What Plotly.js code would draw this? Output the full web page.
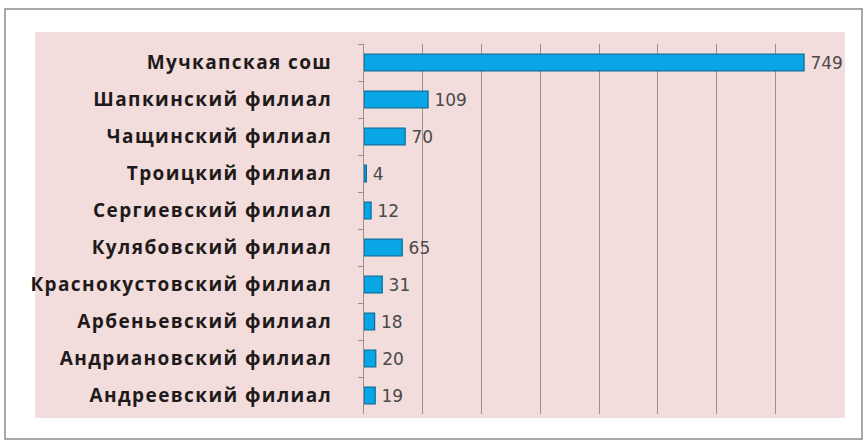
<!DOCTYPE html>
<html>
<head>
<meta charset="utf-8">
<script src="https://cdn.plot.ly/plotly-3.0.1.min.js"></script>
<style>
html,body{margin:0;padding:0;background:#ffffff;}
#chart{width:867px;height:442px;}
#chart .ytick text{letter-spacing:1.4px;}
</style>
</head>
<body>
<div id="chart"></div>
<script>
// Categories, top to bottom as in the reference
const categories = [
  "Мучкапская сош",
  "Шапкинский филиал",
  "Чащинский филиал",
  "Троицкий филиал",
  "Сергиевский филиал",
  "Кулябовский филиал",
  "Краснокустовский филиал",
  "Арбеньевский филиал",
  "Андриановский филиал",
  "Андреевский филиал"
];
const values = [749, 109, 70, 4, 12, 65, 31, 18, 20, 19];
const xTicks = [0, 100, 200, 300, 400, 500, 600, 700, 800];

const W = 867, H = 442;
const L = 364, R = 33, T = 44, B = 28;
const pw = W - L - R, ph = H - T - B;
function fx(px){ return (px - L) / pw; }
function fy(py){ return (H - B - py) / ph; }

const trace = {
  type: "bar",
  orientation: "h",
  y: categories,
  x: values,
  width: 0.45,
  marker: { color: "#08a6e4", line: { color: "#0a6fa0", width: 1.3 } },
  text: values.map(v => "\u2009" + v),
  textposition: "outside",
  constraintext: "none",
  cliponaxis: false,
  textfont: { family: "DejaVu Sans, Verdana, sans-serif", size: 17, color: "#4a4a4a" },
  hoverinfo: "skip"
};

const layout = {
  width: W, height: H,
  margin: { l: L, r: R, t: T, b: B, pad: 0 },
  paper_bgcolor: "#ffffff",
  plot_bgcolor: "rgba(0,0,0,0)",
  showlegend: false,
  xaxis: {
    range: [0, 800],
    tickvals: xTicks,
    showticklabels: false,
    showgrid: true,
    gridcolor: "#9c8f8f",
    gridwidth: 1,
    zeroline: false,
    showline: false,
    fixedrange: true
  },
  yaxis: {
    type: "category",
    autorange: "reversed",
    showgrid: false,
    zeroline: false,
    showline: true,
    linecolor: "#9c8f8f",
    linewidth: 1,
    ticks: "outside",
    tickson: "boundaries",
    ticklen: 5,
    tickcolor: "#9c8f8f",
    tickwidth: 1,
    ticklabelstandoff: 27,
    tickfont: { family: "Open Sans, Liberation Sans, Arial, sans-serif", size: 19, color: "#1e1a1a", weight: "bold" },
    fixedrange: true
  },
  shapes: [
    { type: "rect", xref: "paper", yref: "paper", layer: "below",
      x0: fx(5), x1: fx(862), y0: fy(439), y1: fy(9),
      line: { color: "#8c8c8c", width: 1.5 }, fillcolor: "#ffffff" },
    { type: "rect", xref: "paper", yref: "paper", layer: "below",
      x0: fx(35), x1: fx(845), y0: fy(418), y1: fy(32),
      line: { width: 0 }, fillcolor: "#f2dcdc" }
  ]
};

Plotly.newPlot("chart", [trace], layout, { displayModeBar: false, staticPlot: true });
</script>
</body>
</html>
